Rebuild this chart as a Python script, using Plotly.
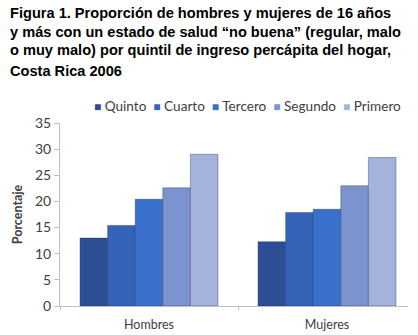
import plotly.graph_objects as go

categories = ["Hombres", "Mujeres"]
series_names = ["Quinto", "Cuarto", "Tercero", "Segundo", "Primero"]
values = {
    "Quinto": [13.0, 12.3],
    "Cuarto": [15.4, 17.9],
    "Tercero": [20.4, 18.5],
    "Segundo": [22.6, 23.0],
    "Primero": [29.0, 28.4],
}
colors = ["#2B4E96", "#3563B8", "#3A6FCC", "#7B94D0", "#A4B3DC"]
title_lines = [
    "Figura 1. Proporción de hombres y mujeres de 16 años",
    "y más con un estado de salud “no buena” (regular, malo",
    "o muy malo) por quintil de ingreso percápita del hogar,",
    "Costa Rica 2006",
]
y_ticks = [0, 5, 10, 15, 20, 25, 30, 35]

fig = go.Figure()
for name, col in zip(series_names, colors):
    fig.add_trace(go.Bar(
        x=categories, y=values[name], name=name,
        marker=dict(color=col, line=dict(color="rgba(20,40,90,0.35)", width=1)),
    ))

PW, PH = 348, 183
title_y = [13, 32, 50, 71]
for txt, yy in zip(title_lines, title_y):
    fig.add_annotation(
        text="<b>%s</b>" % txt, xref="paper", yref="paper",
        x=-60/PW, xanchor="left", xshift=8,
        y=1 + (123 - yy)/PH, yanchor="middle",
        showarrow=False,
        font=dict(family="Liberation Sans, Arial, sans-serif", size=14.6, color="#000000"),
    )

# legend as text row with coloured squares
legend_html = "  ".join(
    '<span style="color:%s;font-size:12px">■</span> %s' % (c, n)
    for n, c in zip(series_names, colors)
)
fig.add_annotation(
    text=legend_html, xref="paper", yref="paper",
    x=(247 - 60)/PW, xanchor="center",
    y=1 + (123 - 106)/PH, yanchor="middle",
    showarrow=False,
    font=dict(family="Lato, Open Sans, sans-serif", size=13.6, color="#404040"),
)

fig.update_layout(
    width=418, height=335,
    margin=dict(l=60, r=10, t=123, b=29),
    paper_bgcolor="white", plot_bgcolor="white",
    barmode="group", bargap=0.225, bargroupgap=0,
    showlegend=False,
    font=dict(family="Lato, Open Sans, sans-serif", size=12, color="#595959"),
    xaxis=dict(range=[-0.5, 1.455], automargin=False, showline=True, linecolor="#BFBFBF", linewidth=1,
               ticks="outside", ticklen=3, tickcolor="#BFBFBF", tickson="boundaries",
               tickfont=dict(size=12.5, color="#404040"), ticklabelstandoff=7),
    yaxis=dict(range=[0, 35], automargin=False, tickvals=y_ticks, showgrid=False, zeroline=False,
               showline=True, linecolor="#BFBFBF", linewidth=1,
               ticks="outside", ticklen=5, tickcolor="#BFBFBF",
               tickfont=dict(size=14, color="#404040"),
               title=dict(text="<b>Porcentaje</b>", font=dict(size=12.5, color="#404040"), standoff=9)),
)

fig.write_html("out.html", config={"displayModeBar": False},
               post_script="document.body.style.margin='0';")
